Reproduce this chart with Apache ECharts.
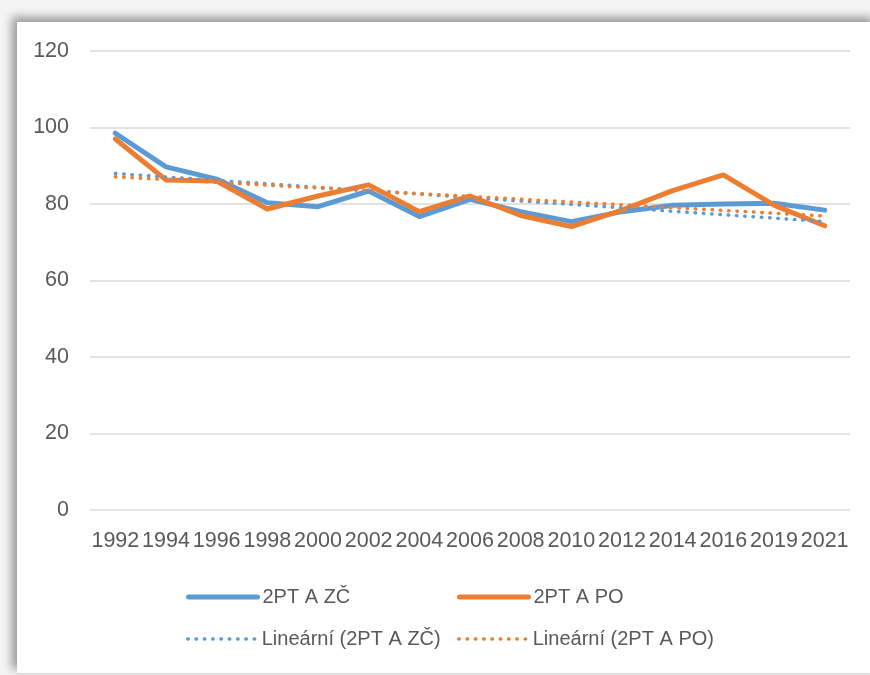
<!DOCTYPE html>
<html>
<head>
<meta charset="utf-8">
<script src="https://cdn.jsdelivr.net/npm/echarts@6/dist/echarts.min.js"></script>
<style>
html,body{margin:0;padding:0;width:870px;height:675px;overflow:hidden;background:#f4f4f4;}
#frame{position:absolute;left:17px;top:22px;width:860px;height:651px;background:#fff;box-shadow:-5px -5px 9px rgba(0,0,0,0.38);border-bottom:1px solid #d6d6d6;}
#chart{position:absolute;left:0;top:0;width:870px;height:675px;}
</style>
</head>
<body>
<div id="frame"></div>
<div id="chart"></div>
<script>
const years = ['1992','1994','1996','1998','2000','2002','2004','2006','2008','2010','2012','2014','2016','2019','2021'];
const zcValues = [98.5, 89.7, 86.5, 80.3, 79.3, 83.4, 76.7, 81.2, 78.0, 75.4, 78.0, 79.7, 80.0, 80.2, 78.4];
const poValues = [97.0, 86.3, 86.0, 78.7, 82.1, 85.0, 78.0, 82.1, 77.0, 74.1, 78.4, 83.5, 87.6, 79.7, 74.3];
const yTicks = [0, 20, 40, 60, 80, 100, 120];
const seriesNames = ['2PT A ZČ', '2PT A PO', 'Lineární (2PT A ZČ)', 'Lineární (2PT A PO)'];

// Linear trend (least squares over category index), as Excel's trendline
function linearTrend(vals){
  const n = vals.length;
  let sx=0, sy=0, sxx=0, sxy=0;
  vals.forEach((v,i)=>{sx+=i; sy+=v; sxx+=i*i; sxy+=i*v;});
  const b = (n*sxy - sx*sy)/(n*sxx - sx*sx);
  const a = (sy - b*sx)/n;
  return vals.map((v,i)=>+(a+b*i).toFixed(3));
}

const blue = '#5B9BD5', orange = '#ED7D31';
const font = 'Liberation Sans';
const dotted = [0.5, 7.8];
const chart = echarts.init(document.getElementById('chart'));
const legendText = {color:'#595959', fontSize:20, fontFamily:font};
function leg(name, left, top, color, width, type){
  return {data:[name], left:left, top:top, padding:0, itemWidth:69, itemHeight:14, itemGap:0,
          textStyle:legendText, selectedMode:false,
          itemStyle:{opacity:0},
          lineStyle:{color:color, width:width, type:type, cap:'round'}};
}
chart.setOption({
  animation:false,
  grid:{left:90, right:20, top:51, bottom:165},
  xAxis:{type:'category', data:years, boundaryGap:true,
    axisLine:{show:false}, axisTick:{show:false},
    axisLabel:{interval:0, margin:20, color:'#595959', fontSize:21.5, fontFamily:font}},
  yAxis:{type:'value', min:yTicks[0], max:yTicks[yTicks.length-1], interval:20,
    axisLine:{show:false}, axisTick:{show:false},
    axisLabel:{margin:21, color:'#595959', fontSize:21.5, fontFamily:font},
    splitLine:{lineStyle:{color:'#d9d9d9', width:1.5}}},
  legend:[
    leg(seriesNames[0], 186, 587, blue, 5, 'solid'),
    leg(seriesNames[1], 457, 587, orange, 5, 'solid'),
    leg(seriesNames[2], 186, 629, blue, 3.5, dotted),
    leg(seriesNames[3], 457, 629, orange, 3.5, dotted)
  ],
  series:[
    {name:seriesNames[0], type:'line', data:zcValues, symbol:'none', lineStyle:{color:blue, width:5, cap:'round', join:'round'}, itemStyle:{color:blue}},
    {name:seriesNames[1], type:'line', data:poValues, symbol:'none', lineStyle:{color:orange, width:5, cap:'round', join:'round'}, itemStyle:{color:orange}},
    {name:seriesNames[2], type:'line', data:linearTrend(zcValues), symbol:'none', lineStyle:{color:blue, width:3.5, type:dotted, cap:'round'}, itemStyle:{color:blue}},
    {name:seriesNames[3], type:'line', data:linearTrend(poValues), symbol:'none', lineStyle:{color:orange, width:3.5, type:dotted, cap:'round'}, itemStyle:{color:orange}}
  ]
});
</script>
</body>
</html>
